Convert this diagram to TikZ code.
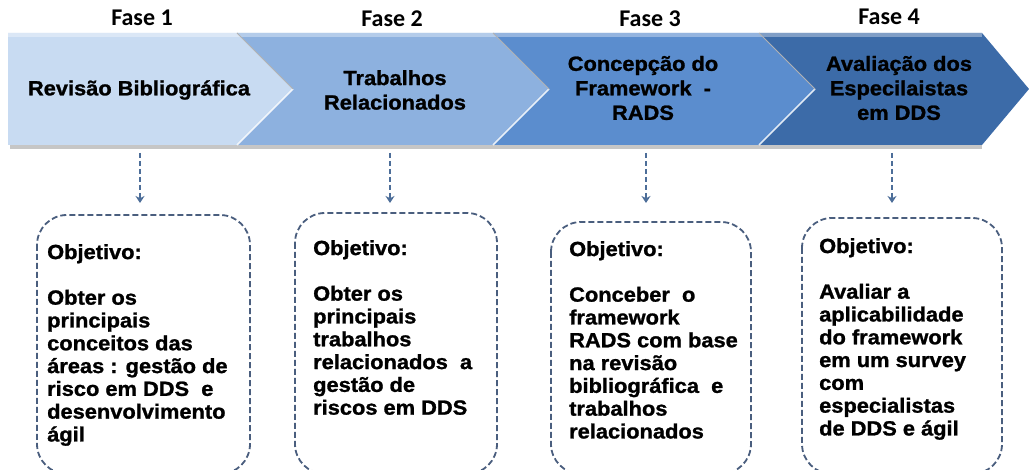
\documentclass[tikz,border=0pt]{standalone}
\usepackage{fontspec}
\setmainfont{Liberation Sans}
\newfontfamily\fasefont{Carlito}
\newfontfamily\boxfont{Liberation Sans}[FakeStretch=1.065,BoldFeatures={FakeBold=1.2}]
\usetikzlibrary{arrows.meta}
\definecolor{cA}{HTML}{C8DBF2}
\definecolor{cB}{HTML}{8DB1DF}
\definecolor{cC}{HTML}{5B8DCE}
\definecolor{cD}{HTML}{3C6BA8}
\definecolor{dashc}{HTML}{4A5E7E}
\definecolor{arrc}{HTML}{4D6E99}
\tikzset{
  fase/.style={font=\fasefont\bfseries\fontsize{24}{27}\selectfont, text=black},
  chevtext/.style={font=\boxfont\bfseries\fontsize{20.5}{24.5}\selectfont, align=center, text=black},
  objbox/.style={draw=dashc, line width=1.8pt, dash pattern=on 6pt off 3pt, rounded corners=30pt},
  objtext/.style={font=\boxfont\bfseries\fontsize{20.5}{22.8}\selectfont, align=left, anchor=north west, inner sep=0pt, text=black},
  downarrow/.style={draw=arrc, line width=1.6pt, dash pattern=on 5pt off 3pt, -{Stealth[length=7pt,width=9pt]}},
  bevel/.style={draw=white, line width=1.5pt, opacity=0.8},
}
\begin{document}
\begin{tikzpicture}[x=1pt,y=-1pt]
\useasboundingbox (0,0) rectangle (1029,470);
\fill[white] (0,0) rectangle (1029,470);
% chevrons
\def\ya{33} \def\ym{89} \def\yb{145} \def\tip{56}
% shadow
\fill[gray!45] (10,\yb-1) rectangle (982,\yb+4);
\fill[cD] (759,\ya) -- (982,\ya) -- (1029,\ym) -- (982,\yb) -- (759,\yb) -- (759+\tip,\ym) -- cycle;
\fill[cC] (493,\ya) -- (759,\ya) -- (759+\tip,\ym) -- (759,\yb) -- (493,\yb) -- (493+\tip,\ym) -- cycle;
\fill[cB] (237,\ya) -- (493,\ya) -- (493+\tip,\ym) -- (493,\yb) -- (237,\yb) -- (237+\tip,\ym) -- cycle;
\fill[cA] (8,\ya) -- (237,\ya) -- (237+\tip,\ym) -- (237,\yb) -- (8,\yb) -- cycle;
% top highlight
\fill[white,opacity=0.35] (8,\ya) rectangle (982,\ya+4);
% bevel lines on notches
\draw[bevel] (237+\tip,\ym) -- (237,\yb);
\draw[bevel] (493+\tip,\ym) -- (493,\yb);
\draw[bevel] (759+\tip,\ym) -- (759,\yb);
\draw[gray!60, line width=1pt] (237,\ya) -- (237+\tip,\ym);
\draw[gray!60, line width=1pt] (493,\ya) -- (493+\tip,\ym);
\draw[gray!60, line width=1pt] (759,\ya) -- (759+\tip,\ym);
% phase titles
\node[fase] (f1) at (142,18) {Fase 1};
\node[fase] (f2) at (392,19) {Fase 2};
\node[fase] (f3) at (650,19) {Fase 3};
\node[fase] (f4) at (889,17) {Fase 4};
% chevron texts
\node[chevtext] (c1) at (139,90) {Revisão Bibliográfica};
\node[chevtext] (c2) at (395,90) {Trabalhos\\Relacionados};
\node[chevtext] (c3) at (643,88) {Concepção do\\Framework\ \ -\\RADS};
\node[chevtext] (c4) at (899,88) {Avaliação dos\\Especilaistas\\em DDS};
% arrow anchors
\coordinate (a1s) at (140,153); \coordinate (a1e) at (140,203);
\coordinate (a2s) at (390,153); \coordinate (a2e) at (390,203);
\coordinate (a3s) at (646,153); \coordinate (a3e) at (646,203);
\coordinate (a4s) at (892,153); \coordinate (a4e) at (892,203);
\draw[downarrow] (a1s) -- (a1e);
\draw[downarrow] (a2s) -- (a2e);
\draw[downarrow] (a3s) -- (a3e);
\draw[downarrow] (a4s) -- (a4e);
% objective boxes
\draw[objbox] (37,215) rectangle (250,474);
\draw[objbox] (295,213) rectangle (497,474);
\draw[objbox] (551,222) rectangle (751,474);
\draw[objbox] (802,218) rectangle (1002,474);
\node[objtext] (t1) at (47,244) {Objetivo:\\[22.8pt]Obter os\\principais\\conceitos das\\áreas : gestão de\\risco em DDS\ \ e\\desenvolvimento\\ágil};
\node[objtext] (t2) at (313,240) {Objetivo:\\[22.8pt]Obter os\\principais\\trabalhos\\relacionados\ \ a\\gestão de\\riscos em DDS};
\node[objtext] (t3) at (569,241) {Objetivo:\\[22.8pt]Conceber\ \ o\\framework\\RADS com base\\na revisão\\bibliográfica\ \ e\\trabalhos\\relacionados};
\node[objtext] (t4) at (819,238) {Objetivo:\\[22.8pt]Avaliar a\\aplicabilidade\\do framework\\em um survey\\com\\especialistas\\de DDS e ágil};
\end{tikzpicture}
\end{document}
